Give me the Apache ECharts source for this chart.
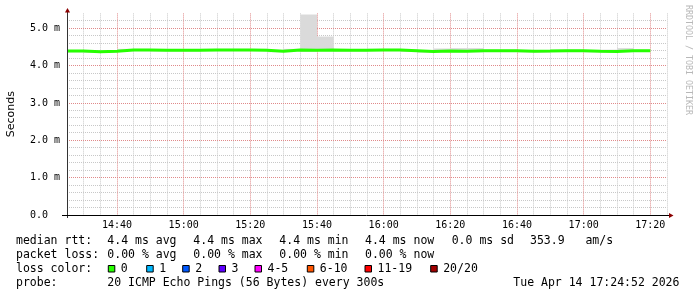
<!DOCTYPE html>
<html><head><meta charset="utf-8">
<script src="https://cdn.jsdelivr.net/npm/echarts@6/dist/echarts.min.js"></script>
<style>html,body{margin:0;padding:0;background:#fff}#c{width:697px;height:297px}</style>
</head><body><div id="c"></div>
<script>
// ---------- data ----------
const startTime = '14:25';          // first 5-minute sample
const stepMinutes = 5;
const medianRtt = [4.39,4.375,4.385,4.42,4.42,4.41,4.41,4.41,4.42,4.42,4.42,4.415,4.385,4.42,4.41,4.42,4.41,4.41,4.42,4.42,4.40,4.38,4.39,4.385,4.40,4.40,4.40,4.385,4.39,4.40,4.40,4.385,4.38,4.40,4.40];
const smokeLow  = [4.36,4.35,4.36,4.39,4.39,4.38,4.38,4.38,4.39,4.39,4.39,4.39,4.36,4.39,4.37,4.39,4.38,4.38,4.39,4.39,4.37,4.35,4.36,4.36,4.36,4.37,4.37,4.36,4.35,4.37,4.37,4.36,4.35,4.37,4.37];
const smokeHigh = [4.42,4.41,4.42,4.45,4.45,4.44,4.44,4.44,4.45,4.45,4.45,4.45,4.42,4.45,5.37,4.78,4.44,4.44,4.45,4.45,4.43,4.41,4.46,4.47,4.47,4.43,4.43,4.42,4.42,4.43,4.43,4.42,4.43,4.47,4.43];
const xTickLabels = ['14:40','15:00','15:20','15:40','16:00','16:20','16:40','17:00','17:20'];
const yTickLabels = ['0.0  ','1.0 m','2.0 m','3.0 m','4.0 m','5.0 m'];
const yAxisTitle = 'Seconds';
const rrdCredit = 'RRDTOOL / TOBI OETIKER';
const rttLabel = 'median rtt:';
const rttStats = ['4.4 ms avg','4.4 ms max','4.4 ms min','4.4 ms now','0.0 ms sd','353.9   am/s'];
const lossLabel = 'packet loss:';
const lossStats = ['0.00 % avg','0.00 % max','0.00 % min','0.00 % now'];
const lossColorLabel = 'loss color:';
const lossColorNames = ['0','1','2','3','4-5','6-10','11-19','20/20'];
const lossColors = ['#26ff00','#00b8ff','#0059ff','#5e00ff','#ff00ff','#ff5500','#ff0000','#a10000'];
const probeLabel = 'probe:';
const probeText = '20 ICMP Echo Pings (56 Bytes) every 300s';
const stampText = 'Tue Apr 14 17:24:52 2026';

// ---------- build ----------
const toMin = s => { const [h,m] = s.split(':').map(Number); return h*60+m; };
const fmt = v => { const h = Math.floor(v/60), m = Math.round(v%60); return h + ':' + String(m).padStart(2,'0'); };
const t0 = toMin(startTime);
const xMin = t0, xMax = t0 + 180, yMin = 0, yMax = 5.4, yStep = 0.2;
const medianPts = medianRtt.map((v,i)=>[t0+i*stepMinutes, v]);
medianPts.push([t0+medianRtt.length*stepMinutes, medianRtt[medianRtt.length-1]]);
const smokePts = medianRtt.map((v,i)=>[t0+i*stepMinutes, smokeLow[i], smokeHigh[i]]);
const xMajor = xTickLabels.map(toMin);
// grid lines: [kind(0=vertical,1=horizontal), value, major?]
const gridData = [];
for (let v = xMin + stepMinutes; v <= xMax; v += stepMinutes) gridData.push([0, v, xMajor.includes(v) ? 1 : 0]);
for (let k = 1; k * yStep < yMax - 1e-6; k++) { const v = +(k*yStep).toFixed(4); gridData.push([1, v, Math.abs(v - Math.round(v)) < 1e-6 ? 1 : 0]); }
gridData.sort((a,b)=>a[2]-b[2]);

const MONO = "'DejaVu Sans Mono', monospace";
const minorC = '#c8c8c8', majorC = '#e08a8a';

const L = {left:67, top:13.4, right:667, bottom:215};
const rowY = [241,255,269,283];
const rttX = [107.3,193.3,279.3,365,451.7,530];
const boxX = [108.3,146.7,182.7,219,255,307.3,365,430.7];

const graphics = [];
const txt = (x,y,s) => graphics.push({type:'text', x, y, style:{text:s, font:'11.5px '+MONO, fill:'#000', textVerticalAlign:'middle', textAlign:'left'}});
txt(16,rowY[0],rttLabel); rttStats.forEach((s,i)=>txt(rttX[i],rowY[0],s));
txt(16,rowY[1],lossLabel); lossStats.forEach((s,i)=>txt(rttX[i],rowY[1],s));
txt(16,rowY[2],lossColorLabel);
lossColorNames.forEach((s,i)=>{
  graphics.push({type:'rect', shape:{x:boxX[i], y:rowY[2]-3.5, width:6.5, height:6.5}, style:{fill:lossColors[i], stroke:'#000', lineWidth:1}});
  txt(boxX[i]+12.5, rowY[2], s);
});
txt(16,rowY[3],probeLabel); txt(107.3,rowY[3],probeText); txt(513.3,rowY[3],stampText);
graphics.push({type:'text', x:688, y:5, rotation:-Math.PI/2, style:{text:rrdCredit, font:'8.3px '+MONO, fill:'#b8b8b8', textVerticalAlign:'middle', textAlign:'left'}});
graphics.push({type:'line', z:50, shape:{x1:L.left+0.5, y1:L.bottom+3, x2:L.left+0.5, y2:9}, style:{stroke:'#333', lineWidth:1}});
graphics.push({type:'line', z:50, shape:{x1:62, y1:L.bottom+0.5, x2:671, y2:L.bottom+0.5}, style:{stroke:'#000', lineWidth:1}});
graphics.push({type:'polygon', z:50, shape:{points:[[65,12.5],[70,12.5],[67.5,8]]}, style:{fill:'#8b0000'}});
graphics.push({type:'polygon', z:50, shape:{points:[[669,213],[669,218],[673.5,215.5]]}, style:{fill:'#8b0000'}});

const option = {
  animation:false,
  backgroundColor:'#fff',
  grid:{left:L.left, top:L.top, width:L.right-L.left, height:L.bottom-L.top, containLabel:false, outerBoundsMode:'none'},
  xAxis:{type:'value', min:xMin, max:xMax, interval:stepMinutes,
    axisLine:{show:false}, axisTick:{show:false}, splitLine:{show:false},
    axisLabel:{margin:5, fontFamily:MONO, fontSize:10, color:'#000', showMinLabel:true, showMaxLabel:true, hideOverlap:false,
      formatter:v=>{ const s = fmt(v); return xMajor.includes(v) ? s : ''; }}},
  yAxis:{type:'value', min:yMin, max:yMax, interval:yStep,
    name:yAxisTitle, nameLocation:'middle', nameRotate:90, nameGap:50,
    nameTextStyle:{fontFamily:'DejaVu Sans', fontSize:11, color:'#000'},
    axisLine:{show:false}, axisTick:{show:false}, splitLine:{show:false},
    axisLabel:{margin:7, fontFamily:MONO, fontSize:10, color:'#000',
      formatter:v=>{ const r=Math.round(v); return Math.abs(v-r)<1e-6 && yTickLabels[r]!==undefined ? yTickLabels[r] : ''; }}},
  series:[
    {type:'custom', name:'gridLines', data:gridData, z:1, silent:true,
      renderItem:(params, api)=>{
        const kind = api.value(0), v = api.value(1), major = api.value(2);
        let a, b;
        if (kind === 0) { a = api.coord([v, yMax]); b = api.coord([v, yMin]); const x = Math.floor(a[0]) + 0.5; a[0] = b[0] = x; }
        else { a = api.coord([xMin, v]); b = api.coord([xMax, v]); const y = Math.floor(a[1]) + 0.5; a[1] = b[1] = y; }
        return {type:'line', shape:{x1:a[0], y1:a[1], x2:b[0], y2:b[1]}, style:{stroke: major ? majorC : minorC, lineWidth:1, lineDash:[1,1]}};
      }},
    {type:'custom', name:'smoke', data:smokePts, z:2, silent:true,
      renderItem:(params, api)=>{
        const t = api.value(0), lo = api.value(1), hi = api.value(2);
        const p1 = api.coord([t, hi]), p2 = api.coord([t+stepMinutes, lo]);
        return {type:'rect', shape:{x:p1[0], y:p1[1], width:p2[0]-p1[0], height:p2[1]-p1[1]}, style:{fill:'#dadada'}};
      }},
    {type:'line', name:'median', data:medianPts, step:'end', showSymbol:false, z:3,
      lineStyle:{color:lossColors[0], width:3}}
  ],
  graphic:graphics
};
const chart = echarts.init(document.getElementById('c'), null, {renderer:'canvas'});
chart.setOption(option);
</script></body></html>
